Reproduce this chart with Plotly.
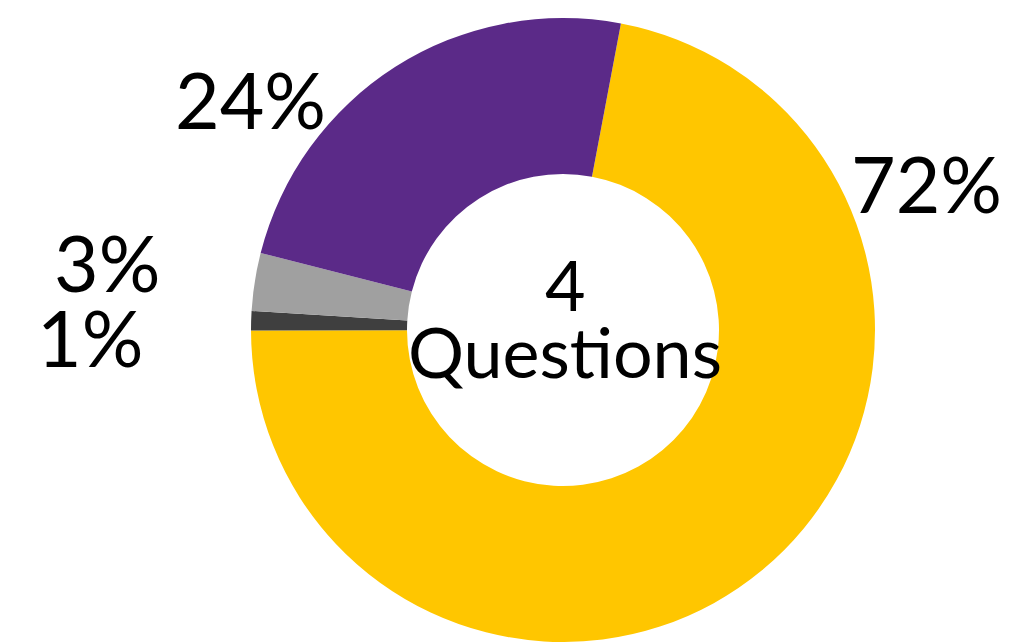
import plotly.graph_objects as go

labels = ["Agree", "Other", "Neutral", "Disagree"]
values = [72, 1, 3, 24]
colors = ["#FFC600", "#3F3F3F", "#A0A0A0", "#5B2A88"]
center_text = ["4", "Questions"]

W, H = 1023, 642
cx, r = 563, 312

fig = go.Figure(go.Pie(
    labels=labels,
    values=values,
    sort=False,
    direction="clockwise",
    rotation=10.7,
    hole=0.5,
    marker=dict(colors=colors, line=dict(width=0)),
    textinfo="none",
    hoverinfo="label+percent",
    showlegend=False,
    domain=dict(x=[(cx - r) / W, (cx + r) / W], y=[0, 1]),
))

font = dict(family="Lato, Carlito, sans-serif", color="#000000")
# percentage label placement (pixel positions of label centres)
label_pos = [(926, 170), (90, 328), (107, 251), (250, 83)]
anns = []
for v, (x, y) in zip(values, label_pos):
    anns.append(dict(text=f"{v}%", x=x / W, y=1 - y / H, xref="paper", yref="paper",
                     showarrow=False, xanchor="center", yanchor="middle",
                     font=dict(size=77, **font)))
# centre text lines
centre_pos = [(565, 274), (565, 343)]
for t, (x, y) in zip(center_text, centre_pos):
    anns.append(dict(text=t, x=x / W, y=1 - y / H,
                     xref="paper", yref="paper", showarrow=False,
                     xanchor="center", yanchor="middle",
                     font=dict(size=70, **font)))

fig.update_layout(
    width=W, height=H,
    margin=dict(l=0, r=0, t=18, b=0),
    paper_bgcolor="white", plot_bgcolor="white",
    annotations=anns,
)
fig.write_html("out.html")
